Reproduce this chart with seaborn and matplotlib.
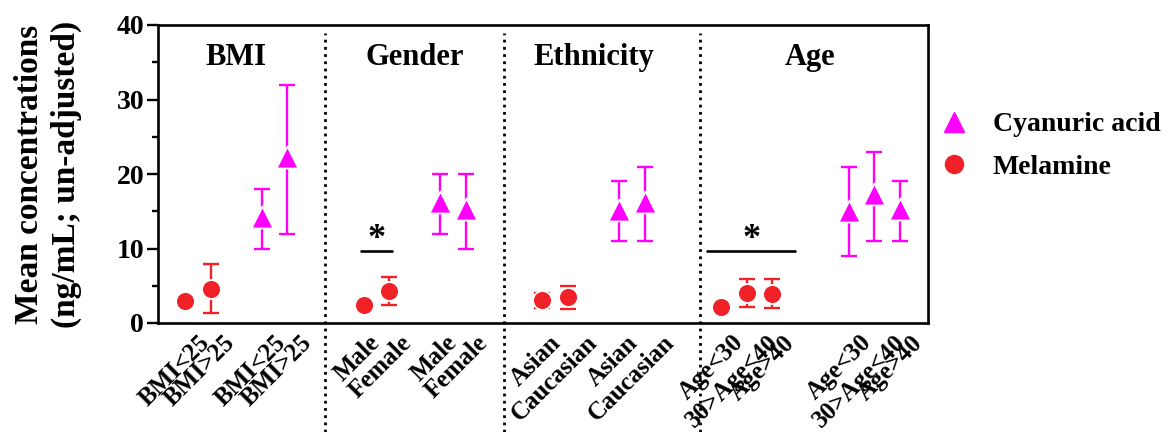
import numpy as np
import pandas as pd
import matplotlib
matplotlib.use("Agg")
import matplotlib.pyplot as plt
from matplotlib.lines import Line2D
from matplotlib.textpath import TextPath
from matplotlib.font_manager import FontProperties
from matplotlib.transforms import ScaledTranslation
import seaborn as sns

# ---- data (ng/mL) ----
groups = ["BMI", "Gender", "Ethnicity", "Age"]
group_levels = [
    ["BMI<25", "BMI>25"],
    ["Male", "Female"],
    ["Asian", "Caucasian"],
    ["Age<30", "30>Age<40", "Age>40"],
]

mel_mean = [3.0, 4.5, 2.4, 4.3, 3.1, 3.5, 2.1, 4.0, 3.9]
mel_low = [2.6, 1.3, 2.0, 2.4, 2.0, 1.9, 1.7, 2.2, 2.0]
mel_high = [3.4, 7.9, 2.8, 6.2, 4.0, 5.0, 2.5, 5.9, 5.9]

cya_mean = [14.2, 22.3, 16.3, 15.3, 15.2, 16.3, 15.0, 17.3, 15.3]
cya_low = [10, 12, 12, 10, 11, 11, 9, 11, 11]
cya_high = [18, 32, 20, 20, 19, 21, 21, 23, 19]

# significance bars: (group, height)
sig_groups = ["Gender", "Age"]
sig_height = [9.6, 9.7]

MAGENTA = "#FF00FF"
RED = "#F02228"

# ---- layout: melamine levels, gap, cyanuric levels, gap before next group ----
inner_gap = [1, 1, 1, 2]
rows = []
pos = 0
group_span = {}
for g, levels, gap in zip(groups, group_levels, inner_gap):
    start = pos
    for lev in levels:
        rows.append((g, lev, "Melamine", pos))
        pos += 1
    pos += gap
    for lev in levels:
        rows.append((g, lev, "Cyanuric acid", pos))
        pos += 1
    group_span[g] = (start, pos - 1)
    pos += 2

df = pd.DataFrame(rows, columns=["group", "level", "compound", "x"])
mel = df["compound"] == "Melamine"
df.loc[mel, "mean"] = mel_mean
df.loc[mel, "low"] = mel_low
df.loc[mel, "high"] = mel_high
df.loc[~mel, "mean"] = cya_mean
df.loc[~mel, "low"] = cya_low
df.loc[~mel, "high"] = cya_high

sns.set_theme(style="ticks", rc={
    "text.color": "black", "axes.labelcolor": "black",
    "xtick.color": "black", "ytick.color": "black",
    "axes.edgecolor": "black",
})
plt.rcParams["font.family"] = ["Liberation Serif", "DejaVu Serif"]
plt.rcParams["font.weight"] = "bold"

fig = plt.figure(figsize=(11.63, 4.32), dpi=100)
ax = fig.add_axes([158 / 1163, 1 - 323 / 432, (928 - 158) / 1163, (323 - 25) / 432])

styles = {
    "Melamine": dict(color=RED, marker="o", s=185),
    "Cyanuric acid": dict(color=MAGENTA, marker="^", s=250),
}
for comp, st in styles.items():
    d = df[df["compound"] == comp]
    ax.errorbar(d["x"], d["mean"],
                yerr=[d["mean"] - d["low"], d["high"] - d["mean"]],
                fmt="none", ecolor=st["color"], elinewidth=1.7,
                capsize=5.5, capthick=1.7, zorder=2)
    sns.scatterplot(data=d, x="x", y="mean", ax=ax, color=st["color"],
                    marker=st["marker"], s=st["s"], edgecolor="white",
                    linewidth=1.3, zorder=3, legend=False)

# group titles
for g in groups:
    a, b = group_span[g]
    ax.text((a + b) / 2, 35.7, g, ha="center", va="center",
            fontsize=22, fontweight="bold")

# dotted dividers, running below the axis into the label area
for xd in [5.5, 12.5, 20.15]:
    ax.plot([xd, xd], [-0.366, 0.973], transform=ax.get_xaxis_transform(),
            color="black", lw=2.0, dashes=(1, 1.6), clip_on=False, zorder=1)

# significance bars
for g, h in zip(sig_groups, sig_height):
    d = df[(df["group"] == g) & (df["compound"] == "Melamine")]
    if g == "Age":
        x0, x1 = d["x"].min() - 0.55, d["x"].max() + 0.9
    else:
        x0, x1 = d["x"].min() - 0.125, d["x"].max() + 0.125
    ax.plot([x0, x1], [h, h], color="black", lw=1.9, zorder=2)
    ax.text((x0 + x1) / 2, h + 0.4, "*", ha="center", va="baseline",
            fontsize=26, fontweight="bold")

ax.set_xlim(-1.06, 29.1)
ax.set_ylim(0, 40)

# rotated category labels; longer labels sit a bit further right (as in Origin)
ax.set_xticks([])
label_fp = FontProperties(family="Liberation Serif", weight="bold", size=18)
for x, lev in zip(df["x"], df["level"]):
    length_px = TextPath((0, 0), lev, prop=label_fp).get_extents().width * 100 / 72
    dx_px = 0.225 * length_px - 7
    shift = ScaledTranslation(dx_px / 100, -8 / 100, fig.dpi_scale_trans)
    ax.text(x, 0, lev, transform=ax.get_xaxis_transform() + shift,
            rotation=45, ha="right", va="top", rotation_mode="anchor",
            fontproperties=label_fp, clip_on=False)

ax.set_yticks([0, 10, 20, 30, 40])
ax.set_yticks([5, 15, 25, 35], minor=True)
ax.tick_params(axis="y", which="major", length=8, width=1.7, labelsize=20,
               direction="out", pad=2)
ax.tick_params(axis="y", which="minor", length=4.5, width=1.7,
               direction="out", left=True)
for lab in ax.get_yticklabels():
    lab.set_fontweight("bold")
ax.set_xlabel("")
ax.set_ylabel("Mean concentrations\n(ng/mL; un-adjusted)", fontsize=24,
              fontweight="bold", linespacing=1.25)
ax.yaxis.set_label_coords(-0.099, 0.5)

for sp in ax.spines.values():
    sp.set_visible(True)
    sp.set_linewidth(1.9)

handles = [
    Line2D([], [], ls="none", marker="^", color=MAGENTA, markersize=15),
    Line2D([], [], ls="none", marker="o", color=RED, markersize=13),
]
fig.legend(handles, ["Cyanuric acid", "Melamine"], loc="upper left",
           bbox_to_anchor=(940 / 1163, 1 - 112 / 432), frameon=False,
           prop={"weight": "bold", "size": 20},
           handlelength=1.0, handletextpad=0.9, labelspacing=0.6,
           borderpad=0, borderaxespad=0)

fig.savefig("out.png", dpi=100)
